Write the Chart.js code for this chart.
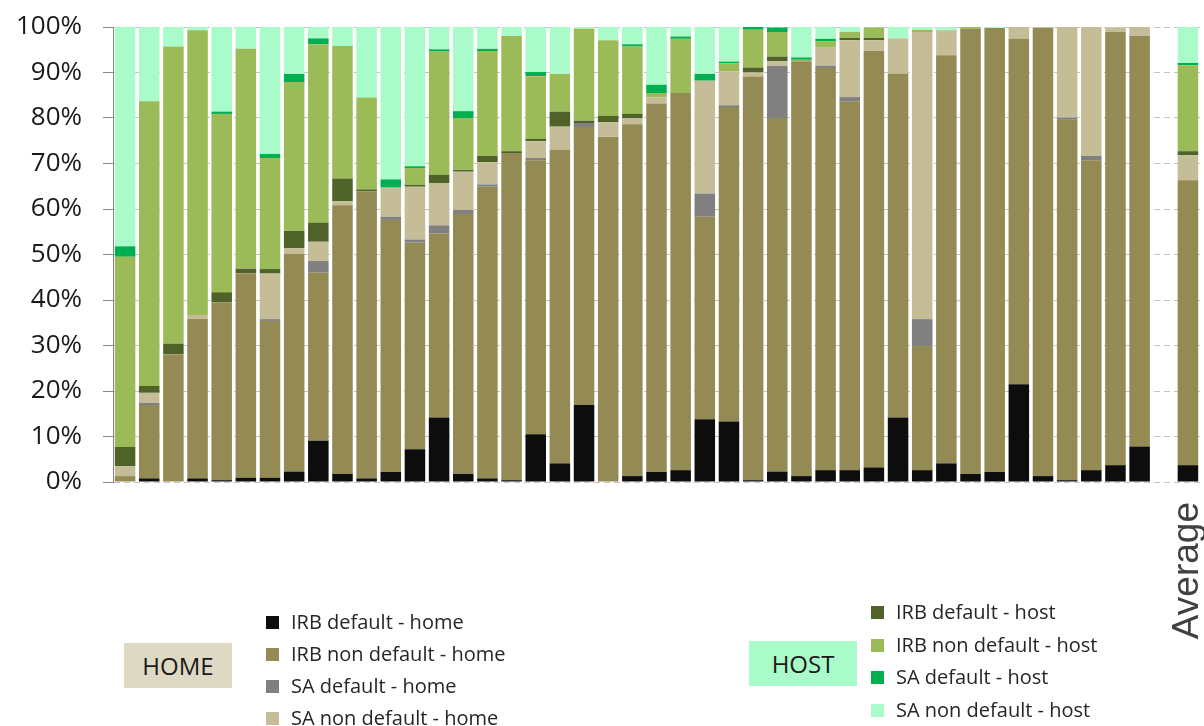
<!DOCTYPE html>
<html>
<head>
<meta charset="utf-8">
<script src="https://cdn.jsdelivr.net/npm/chart.js@4.4.1/dist/chart.umd.min.js"></script>
<style>
  body { margin: 0; background: #fff; }
  #wrap { position: relative; width: 1204px; height: 726px; overflow: hidden; font-family: "Open Sans", sans-serif; color: #262626; }
  #chart { position: absolute; left: 0; top: 0; }
  .tag { position: absolute; width: 108px; height: 45px; line-height: 45px; text-align: center; font-size: 24px; color: #1a1a1a; }
  .item { position: absolute; font-size: 20px; line-height: 24px; white-space: nowrap; }
  .item i { position: absolute; left: -25px; top: 6px; width: 13px; height: 13px; }
</style>
</head>
<body>
<div id="wrap">
  <canvas id="chart" width="1204" height="726"></canvas>
  <div class="tag" style="left:124px;top:643px;background:#ddd9c3">HOME</div>
  <div class="tag" style="left:749px;top:641px;background:#a9fcc9">HOST</div>
  <div id="legend"></div>
</div>
<script>
// 43 countries (unlabelled), one empty slot, then the average
const labels = [
  '', '', '', '', '', '', '', '', '', '', '', '', '', '', '', '', '', '', '', '', '', '',
  '', '', '', '', '', '', '', '', '', '', '', '', '', '', '', '', '', '', '', '', '',
  '', 'Average'
];

// shares in % (bottom to top of each stack)
const irbDefaultHome = [0, 0.8, 0, 0.8, 0.4, 0.9, 0.9, 2.3, 9.1, 1.8, 0.8, 2.2, 7.2, 14.2, 1.8, 0.8, 0.4, 10.5, 4.1, 16.9, 0, 1.3,
  2.2, 2.6, 13.8, 13.3, 0.4, 2.3, 1.3, 2.6, 2.6, 3.2, 14.2, 2.6, 4.1, 1.8, 2.2, 21.5, 1.3, 0.4, 2.6, 3.7, 7.8, null, 3.7];
const irbNonDefaultHome = [1.3, 16.1, 28.1, 35.0, 39.1, 45.0, 34.5, 47.8, 36.9, 59.0, 63.1, 55.4, 45.4, 40.4, 57.1, 64.1, 71.9, 60.2, 69.0, 61.1, 75.9, 77.3,
  81.0, 82.9, 44.5, 69.1, 88.7, 77.7, 91.2, 88.4, 81.0, 91.6, 75.5, 27.3, 89.7, 97.8, 97.6, 76.0, 98.5, 79.2, 68.1, 95.2, 90.3, null, 62.6];
const saDefaultHome = [0, 0.5, 0, 0, 0, 0, 0.4, 0, 2.6, 0, 0, 0.7, 0.7, 1.8, 0.9, 0.5, 0, 0.5, 0, 0.9, 0, 0,
  0, 0, 5.1, 0.4, 0, 11.5, 0, 0.5, 1.0, 0, 0, 5.9, 0, 0, 0, 0, 0, 0.5, 1.0, 0, 0, null, 0];
const saNonDefaultHome = [2.2, 2.2, 0, 0.9, 0, 0, 10.0, 1.3, 4.2, 0.9, 0, 6.4, 11.6, 9.3, 8.4, 4.9, 0, 3.7, 5.0, 0, 3.2, 1.3,
  1.3, 0, 24.8, 7.4, 0.9, 1.0, 0, 4.1, 12.5, 2.3, 7.8, 63.1, 5.5, 0, 0, 2.5, 0.2, 19.9, 28.3, 1.0, 2.0, null, 5.5];
const irbDefaultHost = [4.2, 1.5, 2.3, 0, 2.2, 1.0, 1.0, 3.8, 4.2, 5.0, 0.4, 0, 0.4, 1.8, 0.4, 1.4, 0.4, 0.5, 3.3, 0.5, 1.4, 1.0,
  0, 0, 0, 0, 1.1, 1.0, 0, 0, 0.5, 0.5, 0, 0, 0, 0, 0, 0, 0, 0, 0, 0, 0, null, 0.9];
const irbNonDefaultHost = [41.8, 62.6, 65.3, 62.6, 39.2, 48.3, 24.4, 32.7, 39.2, 29.1, 20.2, 0, 3.7, 27.1, 11.4, 23.0, 25.3, 13.8, 8.3, 20.2, 16.6, 14.8,
  1.0, 11.9, 0, 1.8, 8.3, 5.4, 0.3, 1.3, 1.3, 2.3, 0, 0.5, 0, 0.4, 0, 0, 0, 0, 0, 0, 0, null, 18.9];
const saDefaultHost = [2.3, 0, 0, 0, 0.5, 0, 0.9, 1.8, 1.3, 0, 0, 1.8, 0.4, 0.5, 1.5, 0.5, 0, 0.9, 0, 0, 0, 0.5,
  1.8, 0.5, 1.5, 0.4, 0.6, 1.0, 0.5, 0.5, 0, 0, 0, 0, 0, 0, 0, 0, 0, 0, 0, 0, 0, null, 0.5];
const saNonDefaultHost = [48.2, 16.3, 4.3, 0.7, 18.6, 4.8, 27.9, 10.3, 2.5, 4.2, 15.5, 33.5, 30.6, 4.9, 18.5, 4.8, 2.0, 9.9, 10.3, 0.4, 2.9, 3.8,
  12.7, 2.1, 10.3, 7.6, 0, 0.1, 6.7, 2.6, 1.1, 0.1, 2.5, 0.6, 0.7, 0, 0.2, 0, 0, 0, 0, 0.1, 0, null, 7.9];

const series = [
  { label: 'IRB default - home', data: irbDefaultHome, color: '#0d0d0d', group: 'home' },
  { label: 'IRB non default - home', data: irbNonDefaultHome, color: '#948a54', group: 'home' },
  { label: 'SA default - home', data: saDefaultHome, color: '#808080', group: 'home' },
  { label: 'SA non default - home', data: saNonDefaultHome, color: '#c4bd97', group: 'home' },
  { label: 'IRB default - host', data: irbDefaultHost, color: '#4f6228', group: 'host' },
  { label: 'IRB non default - host', data: irbNonDefaultHost, color: '#9bbb59', group: 'host' },
  { label: 'SA default - host', data: saDefaultHost, color: '#00b050', group: 'host' },
  { label: 'SA non default - host', data: saNonDefaultHost, color: '#a9fcc9', group: 'host' }
];

new Chart(document.getElementById('chart'), {
  type: 'bar',
  data: {
    labels: labels,
    datasets: series.map(s => ({
      label: s.label,
      data: s.data,
      backgroundColor: s.color,
      borderWidth: 0,
      barPercentage: 0.85,
      categoryPercentage: 1
    }))
  },
  options: {
    responsive: false,
    animation: false,
    devicePixelRatio: 1,
    layout: { padding: { top: 27, right: 4, left: 0, bottom: 0 } },
    plugins: { legend: { display: false }, tooltip: { enabled: false } },
    scales: {
      x: {
        stacked: true,
        grid: { display: false, drawTicks: false },
        border: { display: false },
        ticks: {
          autoSkip: false,
          minRotation: 90,
          maxRotation: 90,
          padding: 20,
          color: '#404040',
          font: { family: 'Liberation Sans', size: 37 }
        },
        afterFit: scale => {
          scale.height = 244;
          scale.paddingLeft = 0;
          scale.paddingRight = 0;
        }
      },
      y: {
        stacked: true,
        min: 0,
        max: 100,
        grid: { color: '#c4c4c4', tickColor: '#868686', tickLength: 10, lineWidth: 1 },
        border: { color: '#868686', dash: [6, 4] },
        ticks: {
          stepSize: 10,
          padding: 21,
          color: '#1a1a1a',
          font: { family: 'Open Sans', size: 26 },
          callback: v => v + '%'
        },
        afterFit: scale => {
          scale.width = 113;
          scale.paddingTop = 0;
          scale.paddingBottom = 0;
        }
      }
    }
  }
});

// two-column legend, home on the left, host on the right
const legend = document.getElementById('legend');
const homeTop = [622, 654, 686, 718];
const hostTop = [612, 645, 677, 710];
series.forEach((s, i) => {
  const home = s.group === 'home';
  const row = home ? i : i - 4;
  const el = document.createElement('div');
  el.className = 'item';
  el.style.left = (home ? 291 : 896) + 'px';
  el.style.top = ((home ? homeTop : hostTop)[row] - 12) + 'px';
  el.innerHTML = '<i style="background:' + s.color + '"></i>' + s.label;
  legend.appendChild(el);
});
</script>
</body>
</html>
